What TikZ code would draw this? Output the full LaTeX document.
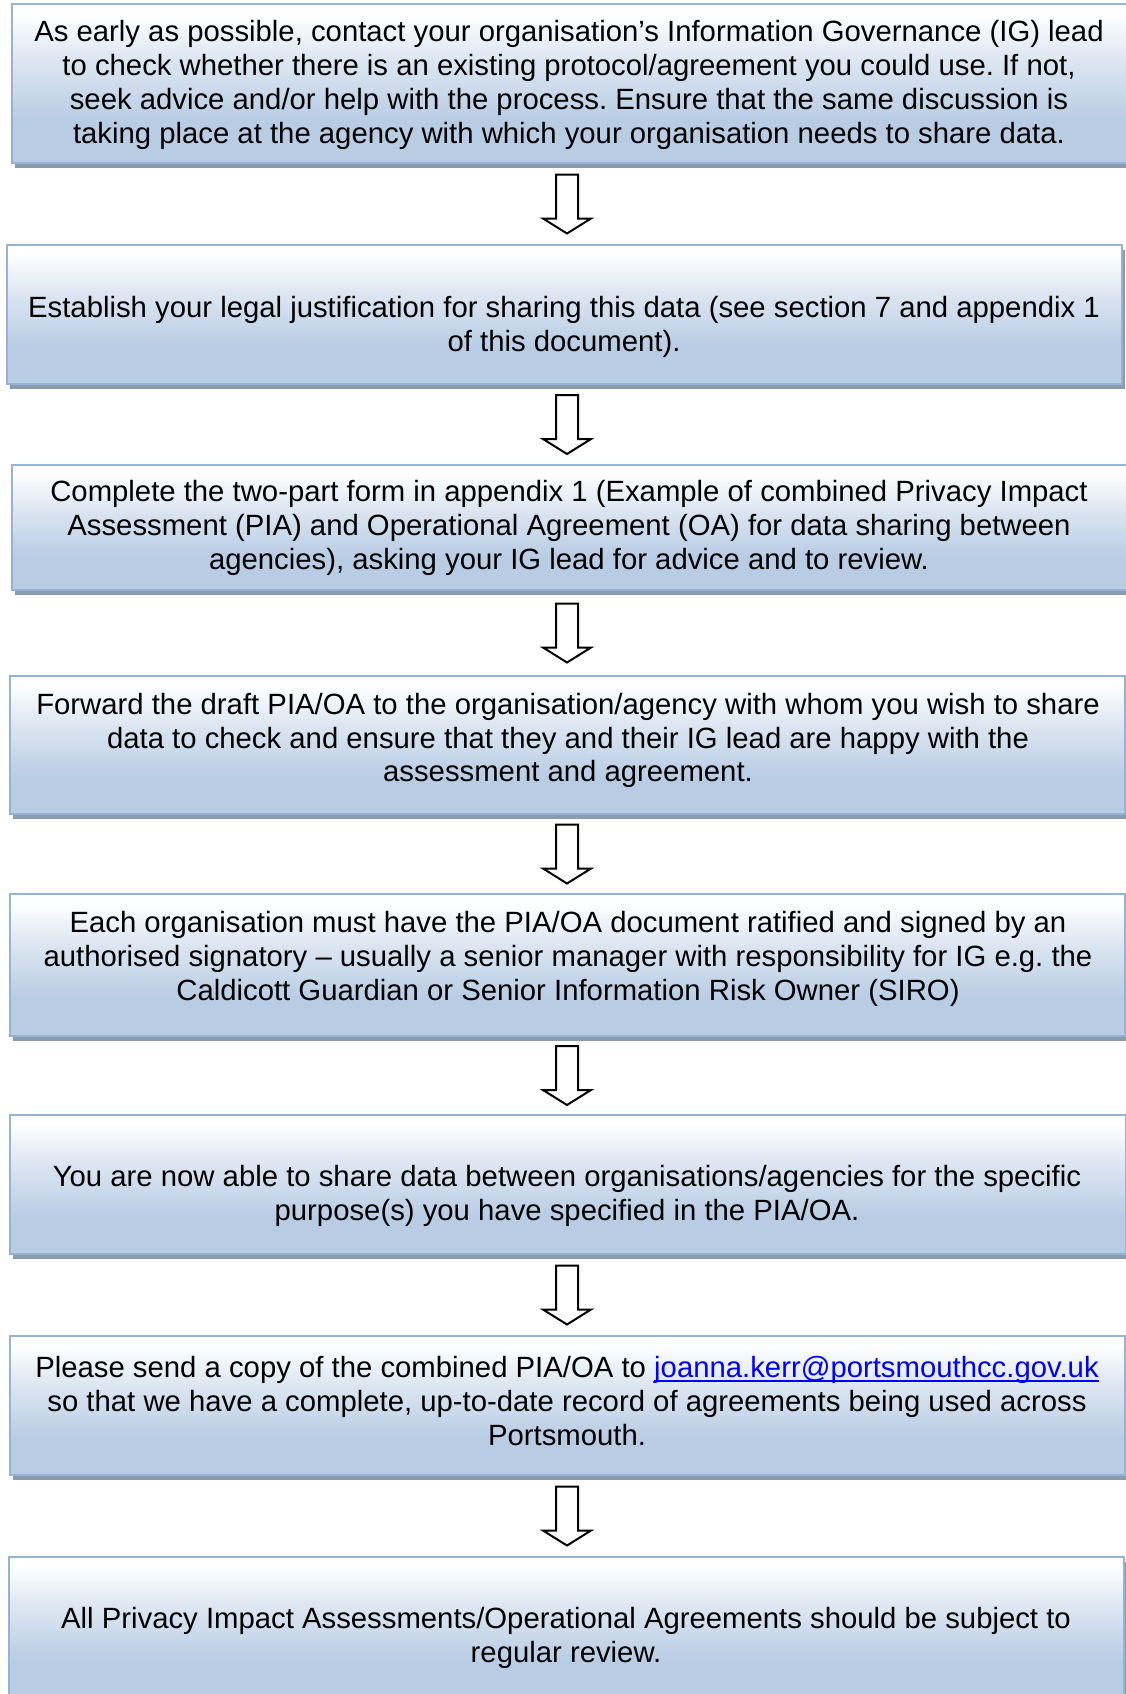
\documentclass[tikz,border=0pt]{standalone}
\usepackage{fontspec}
\setmainfont{Liberation Sans}
\usetikzlibrary{calc,shadows}
\frenchspacing

\definecolor{boxblue}{RGB}{184,204,228}
\definecolor{boxmid}{RGB}{222,231,242}
\definecolor{boxedge}{RGB}{149,179,215}
\definecolor{boxshadow}{RGB}{140,154,174}
\definecolor{linkblue}{RGB}{0,0,255}
\pgfdeclareverticalshading{boxfade}{100bp}{color(0bp)=(boxblue); color(25bp)=(boxblue); color(38bp)=(boxblue); color(58bp)=(boxmid); color(72bp)=(white); color(100bp)=(white)}
\newcommand{\maillink}[1]{{\color{linkblue}\setbox0\hbox{#1}\rlap{\rule[-4pt]{\wd0}{1.8pt}}\box0}}

\begin{document}
\begin{tikzpicture}[x=1pt,y=-1pt,
    flowbox/.style={draw=boxedge,line width=2pt,shading=boxfade,inner sep=0pt,
      drop shadow={shadow xshift=3pt,shadow yshift=-5pt,fill=boxshadow,opacity=1}},
    flowtext/.style={align=center,inner sep=0pt,font=\fontsize{29.3}{33.8}\selectfont},
    hollowarrow/.style={draw=black,line width=2pt,fill=white,line join=miter}]
    \useasboundingbox (0,0) rectangle (1126,1694);

    % 方框
    \node[flowbox,minimum width=1124pt,minimum height=159pt] (b1) at (574,83.5) {};
    \node[flowbox,minimum width=1115pt,minimum height=139pt] (b2) at (564.5,314.5) {};
    \node[flowbox,minimum width=1124pt,minimum height=125pt] (b3) at (574,527.5) {};
    \node[flowbox,minimum width=1115pt,minimum height=138pt] (b4) at (567.5,745) {};
    \node[flowbox,minimum width=1115pt,minimum height=142pt] (b5) at (567.5,965) {};
    \node[flowbox,minimum width=1116pt,minimum height=139pt] (b6) at (568,1184.5) {};
    \node[flowbox,minimum width=1115pt,minimum height=139pt] (b7) at (567.5,1405.5) {};
    \node[flowbox,minimum width=1115pt,minimum height=141pt] (b8) at (566.5,1627.5) {};

    % 文字
    \node[flowtext] (t1) at (569,85) {As early as possible, contact your organisation’s Information Governance (IG) lead\\
      to check whether there is an existing protocol/agreement you could use. If not,\\
      seek advice and/or help with the process. Ensure that the same discussion is\\
      taking place at the agency with which your organisation needs to share data.};
    \node[flowtext] (t2) at (564,327) {Establish your legal justification for sharing this data (see section 7 and appendix 1\\
      of this document).};
    \node[flowtext] (t3) at (569,528) {Complete the two-part form in appendix 1 (Example of combined Privacy Impact\\
      Assessment (PIA) and Operational Agreement (OA) for data sharing between\\
      agencies), asking your IG lead for advice and to review.};
    \node[flowtext] (t4) at (568,740.5) {Forward the draft PIA/OA to the organisation/agency with whom you wish to share\\
      data to check and ensure that they and their IG lead are happy with the\\
      assessment and agreement.};
    \node[flowtext] (t5) at (568,959) {Each organisation must have the PIA/OA document ratified and signed by an\\
      authorised signatory – usually a senior manager with responsibility for IG e.g. the\\
      Caldicott Guardian or Senior Information Risk Owner (SIRO)};
    \node[flowtext] (t6) at (567,1196) {You are now able to share data between organisations/agencies for the specific\\
      purpose(s) you have specified in the PIA/OA.};
    \node[flowtext] (t7) at (567,1401) {Please send a copy of the combined PIA/OA to \maillink{joanna.kerr@portsmouthcc.gov.uk}\\
      so that we have a complete, up-to-date record of agreements being used across\\
      Portsmouth.};
    \node[flowtext] (t8) at (566,1638) {All Privacy Impact Assessments/Operational Agreements should be subject to\\
      regular review.};

    % 空心箭头
    \foreach \a/\b in {b1/b2,b2/b3,b3/b4,b4/b5,b5/b6,b6/b7,b7/b8}
      \draw[hollowarrow] let \p1=($(\a.south)!.5!(\b.north)$) in
        (556pt,\y1+29.5pt) -- (578pt,\y1+29.5pt) -- (578pt,\y1-14.5pt) -- (591pt,\y1-14.5pt)
        -- (567pt,\y1-29.5pt) -- (543pt,\y1-14.5pt) -- (556pt,\y1-14.5pt) -- cycle;
\end{tikzpicture}
\end{document}
